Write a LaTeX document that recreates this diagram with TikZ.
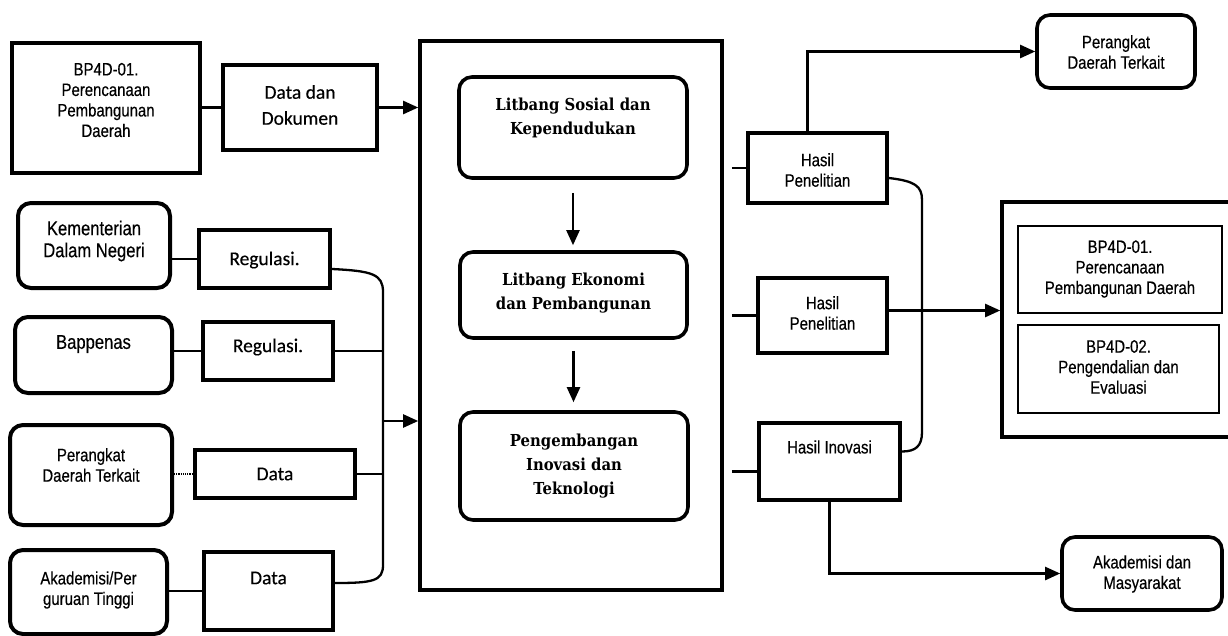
\documentclass[tikz,border=0pt]{standalone}
\usepackage{fontspec}
\setmainfont{Liberation Sans}
\newfontfamily\narsans[FakeStretch=0.83,FakeBold=0.4]{Liberation Sans}
\newfontfamily\calsans[FakeBold=0.3]{Carlito}
\newfontfamily\bookserif[FakeStretch=0.9]{DejaVu Serif}
\usetikzlibrary{arrows.meta,calc}

\tikzset{
  sqbox/.style={draw, line width=4pt, rectangle, inner sep=0pt},
  rndbox/.style={draw, line width=4pt, rounded corners=13pt, inner sep=0pt},
  thinbox/.style={draw, line width=1.6pt, inner sep=0pt},
  txtn/.style={font=\narsans\fontsize{18}{20.5}\selectfont, align=center, inner sep=0pt},
  txtnb/.style={font=\narsans\fontsize{20}{22}\selectfont, align=center, inner sep=0pt},
  txtc/.style={font=\calsans\fontsize{19.5}{26}\selectfont, align=center, inner sep=0pt},
  txts/.style={font=\bookserif\bfseries\fontsize{16.5}{24}\selectfont, align=center, inner sep=0pt},
  conn/.style={line width=2.3pt},
  arr/.style={conn, -{Triangle[length=15pt,width=13pt]}},
}

\begin{document}
\begin{tikzpicture}[x=1pt,y=-1pt]
\useasboundingbox[fill=white] (0,0) rectangle (1228,635);

% ---------- sources on the left ----------
\node[sqbox, minimum width=188pt, minimum height=130pt] (bp4d) at (106,108) {};
\node[txtn] (bp4dt) at (106,100) {BP4D-01.\\Perencanaan\\Pembangunan\\Daerah};
\node[sqbox, minimum width=154pt, minimum height=85pt] (ddok) at (300,107.5) {};
\node[txtc] (ddokt) at (300,105) {Data dan\\Dokumen};

\node[rndbox, minimum width=152pt, minimum height=85pt] (kemen) at (94,245.5) {};
\node[txtnb] (kement) at (94,241) {Kementerian\\Dalam Negeri};
\node[sqbox, minimum width=131pt, minimum height=58pt] (reg1) at (264.5,259) {};
\node[txtc] (reg1t) at (264.5,260) {Regulasi.};

\node[rndbox, minimum width=157pt, minimum height=76pt] (bapp) at (93.5,355) {};
\node[txtnb] (bappt) at (93.5,344) {Bappenas};
\node[sqbox, minimum width=130pt, minimum height=58pt] (reg2) at (268,351) {};
\node[txtc] (reg2t) at (268,347) {Regulasi.};

\node[rndbox, minimum width=162pt, minimum height=100pt] (perl) at (91,475) {};
\node[txtn] (perlt) at (91,465) {Perangkat\\Daerah Terkait};
\node[sqbox, minimum width=160pt, minimum height=48pt] (data1) at (275,474) {};
\node[txtc] (data1t) at (275,474) {Data};

\node[rndbox, minimum width=157pt, minimum height=84pt] (akl) at (88.5,592) {};
\node[txtn] (aklt) at (88.5,590) {Akademisi/Per\\guruan Tinggi};
\node[sqbox, minimum width=129pt, minimum height=78pt] (data2) at (268.5,591) {};
\node[txtc] (data2t) at (268.5,578) {Data};

% ---------- central unit ----------
\node[sqbox, line width=3.6pt, minimum width=302pt, minimum height=549pt] (main) at (571,315.5) {};
\node[rndbox, line width=3.6pt, minimum width=228pt, minimum height=101pt] (l1) at (573,127.5) {};
\node[txts] (l1t) at (573,118) {Litbang Sosial dan\\Kependudukan};
\node[rndbox, line width=3.6pt, minimum width=227pt, minimum height=86pt] (l2) at (573.5,295) {};
\node[txts] (l2t) at (573.5,293) {Litbang Ekonomi\\dan Pembangunan};
\node[rndbox, line width=3.6pt, minimum width=228pt, minimum height=108pt] (l3) at (574,466) {};
\node[txts] (l3t) at (574,466) {Pengembangan\\Inovasi dan\\Teknologi};

% ---------- outputs ----------
\node[sqbox, line width=3.6pt, minimum width=139pt, minimum height=70pt] (h1) at (817.5,168) {};
\node[txtn] (h1t) at (817.5,170) {Hasil\\Penelitian};
\node[sqbox, line width=3.6pt, minimum width=129pt, minimum height=75pt] (h2) at (822.5,315.5) {};
\node[txtn] (h2t) at (822.5,313) {Hasil\\Penelitian};
\node[sqbox, line width=3.6pt, minimum width=141pt, minimum height=77pt] (hi) at (829.5,461.5) {};
\node[txtn] (hit) at (829.5,447) {Hasil Inovasi};

\node[rndbox, line width=3.6pt, minimum width=158pt, minimum height=73pt] (perr) at (1116,51.5) {};
\node[txtn] (perrt) at (1116,52) {Perangkat\\Daerah Terkait};

\begin{scope}
  \clip (0,0) rectangle (1228,635);
  \node[sqbox, line width=3.6pt, minimum width=240pt, minimum height=235pt] (outbox) at (1122,319.5) {};
\end{scope}
\node[thinbox, minimum width=204pt, minimum height=87pt] (bpa) at (1120,269.5) {};
\node[txtn] (bpat) at (1120,269) {BP4D-01.\\Perencanaan\\Pembangunan Daerah};
\node[thinbox, minimum width=201pt, minimum height=88pt] (bpb) at (1118.5,369) {};
\node[txtn] (bpbt) at (1118.5,367) {BP4D-02.\\Pengendalian dan\\Evaluasi};

\node[rndbox, line width=3.6pt, minimum width=160pt, minimum height=73pt] (akr) at (1142,573.5) {};
\node[txtn] (akrt) at (1142,574) {Akademisi dan\\Masyarakat};

% ---------- connectors on the left ----------
\coordinate (bustop) at (383,292);
\coordinate (busbot) at (383,565);
\coordinate (busarr) at (383,421);

\draw[conn] (bp4d.east |- ddok.west) -- (ddok.west);
\draw[arr] (ddok.east) -- (ddok.east -| main.west);
\draw[conn] (kemen.east |- reg1.west) -- (reg1.west);
\draw[conn] (bapp.east |- reg2.west) -- (reg2.west);
\draw[line width=1.2pt, densely dotted] (perl.east |- data1.west) -- (data1.west);
\draw[conn] (akl.east |- data2.west) -- (data2.west);

\draw[conn] ([yshift=-10pt]reg1.east) .. controls +(40,2) and +(0,-18) .. (bustop)
  -- (busbot) .. controls +(0,16) and +(38,0) .. ([yshift=8pt]data2.east);
\draw[conn] (reg2.east) -- (reg2.east -| bustop);
\draw[conn] (data1.east) -- (data1.east -| bustop);
\draw[arr] (busarr) -- (busarr -| main.west);

% ---------- flow inside the central unit ----------
\draw[arr, shorten <=13pt, shorten >=5pt] (l1.south) -- (l1.south |- l2.north);
\draw[arr, shorten <=11pt, shorten >=8pt] (l2.south) -- (l2.south |- l3.north);

% ---------- connectors on the right ----------
\draw[conn] ([xshift=8pt]main.east |- h1.west) -- (h1.west);
\draw[conn] ([xshift=8pt]main.east |- h2.west) -- (h2.west);
\draw[conn] ([xshift=8pt,yshift=-10pt]main.east |- hi.west) -- ([yshift=-10pt]hi.west);

\coordinate (vtop) at (922,200);
\coordinate (vbot) at (922,432);
\draw[arr] ([xshift=-10pt]h1.north) |- (perr.west);
\draw[conn] ([yshift=-10pt]h1.east) .. controls +(26,3) and +(0,-14) .. (vtop)
  -- (vbot) .. controls +(0,14) and +(14,0) .. ([yshift=10pt]hi.east);
\draw[arr] ([yshift=5pt]h2.east) -- ([yshift=5pt]h2.east -| outbox.west);
\draw[arr] (hi.south) |- (akr.west);
\end{tikzpicture}
\end{document}
